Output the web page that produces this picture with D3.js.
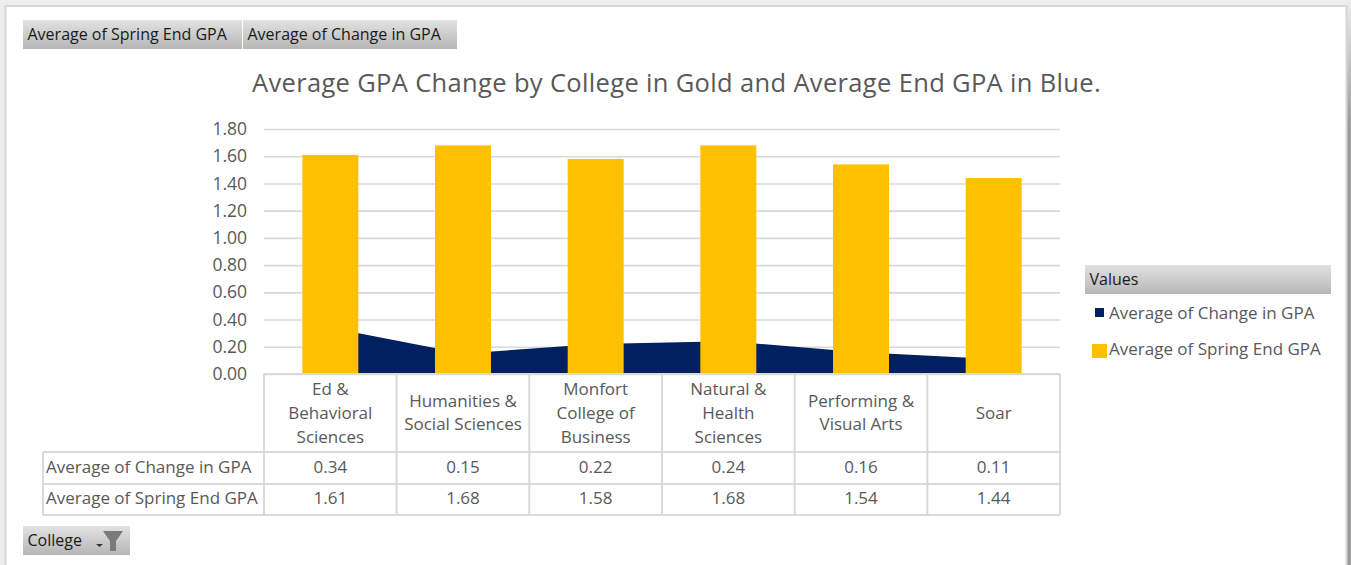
<!DOCTYPE html>
<html>
<head>
<meta charset="utf-8">
<script src="https://cdn.jsdelivr.net/npm/d3@7"></script>
<style>
  html, body { margin: 0; padding: 0; background: #ededed; overflow: hidden; }
  svg { display: block; }
  text { font-family: "Open Sans", "Noto Sans", sans-serif; }
</style>
</head>
<body>
<svg id="chart" width="1351" height="565"></svg>
<script>
const categoryLines = [
  ["Ed &", "Behavioral", "Sciences"],
  ["Humanities &", "Social Sciences"],
  ["Monfort", "College of", "Business"],
  ["Natural &", "Health", "Sciences"],
  ["Performing &", "Visual Arts"],
  ["Soar"]
];
const categories = categoryLines.map(l => l.join(" "));
const changeInGpa = [0.34, 0.15, 0.22, 0.24, 0.16, 0.11];
const springEndGpa = [1.61, 1.68, 1.58, 1.68, 1.54, 1.44];
const yTicks = [0, 0.2, 0.4, 0.6, 0.8, 1.0, 1.2, 1.4, 1.6, 1.8];
const changeName = "Average of Change in GPA";
const springName = "Average of Spring End GPA";
const titleText = "Average GPA Change by College in Gold and Average End GPA in Blue.";

const NAVY = "#002060", GOLD = "#ffc000", GRID = "#d9d9d9", INK = "#595959";

const svg = d3.select("#chart");

const defs = svg.append("defs");
const btn = defs.append("linearGradient").attr("id", "btn").attr("x2", 0).attr("y2", 1);
btn.append("stop").attr("offset", "0").attr("stop-color", "#e2e2e2");
btn.append("stop").attr("offset", "1").attr("stop-color", "#b6b6b6");
const edge = defs.append("linearGradient").attr("id", "edge").attr("x2", 0).attr("y2", 1);
edge.append("stop").attr("offset", "0").attr("stop-color", "#ececec");
edge.append("stop").attr("offset", "0.22").attr("stop-color", "#9c9c9c");
edge.append("stop").attr("offset", "1").attr("stop-color", "#9c9c9c");

// Worksheet surround and the chart's white panel
svg.append("rect").attr("x", 1347).attr("y", 0).attr("width", 4).attr("height", 565).attr("fill", "url(#edge)");
svg.append("rect").attr("x", 5.5).attr("y", 6).attr("width", 1341).attr("height", 570)
  .attr("fill", "#fff").attr("stroke", "#d6d6d6").attr("stroke-width", 2);

const x = d3.scaleBand().domain(categories).range([264, 1060]).paddingInner(0.578).paddingOuter(0.289);
const y = d3.scaleLinear().domain([0, 1.8]).range([374, 129]);
const center = c => x(c) + x.bandwidth() / 2;

// Title
svg.append("text").attr("x", 676.5).attr("y", 92).attr("text-anchor", "middle")
  .attr("font-size", 25.5).attr("letter-spacing", 0.34).attr("fill", INK).text(titleText);

// Gridlines and value axis
const gridAxis = d3.axisLeft(y).tickValues(yTicks).tickSize(-796).tickPadding(17).tickFormat(d3.format(".2f"));
const gAxis = svg.append("g").attr("transform", "translate(264,0)").call(gridAxis);
gAxis.select(".domain").remove();
gAxis.selectAll("line").attr("stroke", GRID).attr("stroke-width", 1.6);
gAxis.selectAll("text").attr("fill", INK).attr("font-size", 17.5).attr("font-family", "'Open Sans'");

// Change in GPA as an area behind the bars
const area = d3.area().x((d, i) => center(categories[i])).y0(y(0)).y1(d => y(d));
svg.append("path").datum(changeInGpa).attr("d", area).attr("fill", NAVY);

// Spring end GPA bars
svg.append("g").selectAll("rect").data(springEndGpa).join("rect")
  .attr("x", (d, i) => x(categories[i]))
  .attr("y", d => y(d))
  .attr("width", x.bandwidth())
  .attr("height", d => y(0) - y(d))
  .attr("fill", GOLD);

// Data table under the plot
const colW = 796 / categories.length;
const rowTop = 374, rowA = 452, rowB = 484, rowC = 515, headLeft = 43, tableLeft = 264, tableRight = 1060;
const table = svg.append("g").attr("stroke", GRID).attr("stroke-width", 2).attr("fill", "none");
const hLines = [[tableLeft, rowTop], [headLeft, rowA], [headLeft, rowB], [headLeft, rowC]];
hLines.forEach(([x0, yy]) => table.append("line").attr("x1", x0).attr("x2", tableRight).attr("y1", yy).attr("y2", yy));
table.append("line").attr("x1", headLeft).attr("x2", headLeft).attr("y1", rowA).attr("y2", rowC);
d3.range(categories.length + 1).forEach(i => {
  const xx = tableLeft + i * colW;
  table.append("line").attr("x1", xx).attr("x2", xx).attr("y1", rowTop).attr("y2", rowC);
});

const catLabels = svg.append("g").attr("text-anchor", "middle").attr("fill", INK).attr("font-size", 17);
categoryLines.forEach((lines, i) => {
  const cx = center(categories[i]);
  const first = 419 - (lines.length - 1) * 12;
  const lineGap = lines.length === 2 ? 23 : 24;
  lines.forEach((line, j) => {
    catLabels.append("text").attr("x", cx).attr("y", first + j * lineGap).text(line);
  });
});

[[changeName, changeInGpa, 473], [springName, springEndGpa, 504]].forEach(([name, vals, base]) => {
  svg.append("text").attr("x", 46).attr("y", base).attr("font-size", 17).attr("fill", INK).text(name);
  svg.append("g").selectAll("text").data(vals).join("text")
    .attr("x", (d, i) => center(categories[i])).attr("y", base)
    .attr("text-anchor", "middle").attr("font-size", 17).attr("fill", INK)
    .text(d3.format(".2f"));
});

// Grey pivot field buttons
function button(left, top, w, h, label) {
  svg.append("rect").attr("x", left).attr("y", top).attr("width", w).attr("height", h).attr("fill", "url(#btn)");
  svg.append("text").attr("x", left + 4.5).attr("y", top + h / 2 + 5)
    .attr("font-size", 16).attr("fill", "#1a1a1a").text(label);
}
button(23, 20, 219, 29, springName);
button(243, 20, 214, 29, changeName);
button(23, 526, 107, 29, "College");
button(1085, 265, 246, 29, "Values");

// Sort arrow and funnel on the College button
svg.append("path").attr("d", d3.line()([[96, 544], [103, 544], [99.5, 547]])).attr("fill", "#333");
svg.append("path").attr("d", d3.line()([[103, 531], [123, 531], [116, 541], [116, 551], [110, 551], [110, 541]])).attr("fill", "#7a7a7a");

// Legend
const legend = [
  { name: changeName, color: NAVY, box: [1095, 308, 9, 9], base: 319 },
  { name: springName, color: GOLD, box: [1092, 344, 15, 14], base: 355 }
];
legend.forEach(l => {
  svg.append("rect").attr("x", l.box[0]).attr("y", l.box[1]).attr("width", l.box[2]).attr("height", l.box[3]).attr("fill", l.color);
  svg.append("text").attr("x", 1109).attr("y", l.base).attr("font-size", 17).attr("fill", INK).text(l.name);
});
</script>
</body>
</html>
